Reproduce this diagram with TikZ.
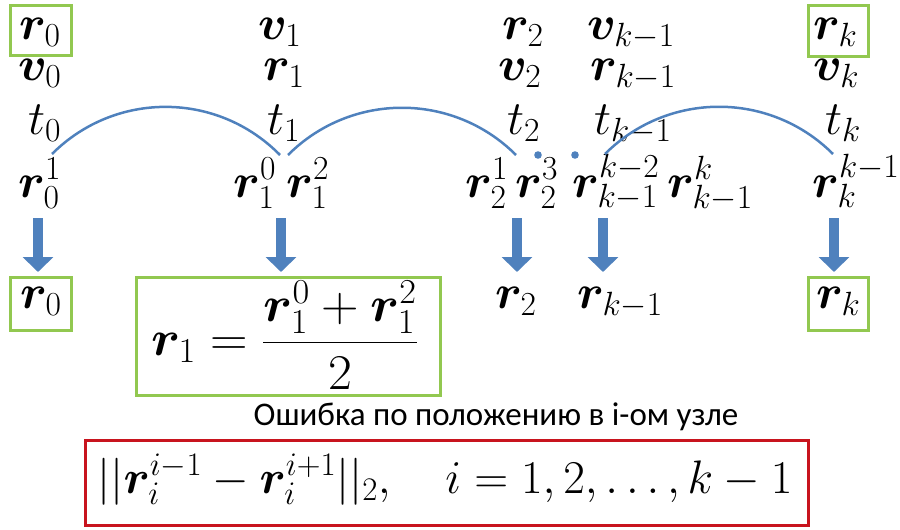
\RequirePackage{fix-cm}
\documentclass[tikz,border=0pt]{standalone}
\usepackage{amsmath,bm}
\usepackage{fontspec}
\newfontfamily\rusfont{Carlito}
\usetikzlibrary{arrows.meta}
\definecolor{boxgreen}{RGB}{146,200,80}
\definecolor{arcblue}{RGB}{79,129,189}
\definecolor{boxred}{RGB}{200,20,30}
\begin{document}
\begin{tikzpicture}[x=1pt,y=-1pt,
  every node/.style={inner sep=0pt,font=\fontsize{48}{58}\selectfont},
  lbl/.style={anchor=base west},
  gbox/.style={draw=boxgreen,line width=3pt},
  rbox/.style={draw=boxred,line width=3pt},
  arcline/.style={draw=arcblue,line width=2.5pt},
  bigarrow/.style={draw=arcblue,line width=10pt,-{Triangle[width=30pt,length=15pt]}},
  dotmark/.style={fill=arcblue}]
\useasboundingbox (0,0) rectangle (900,530);
% row 1
\node[lbl] (r0a) at (19,39) {$\bm r_0$};
\node[lbl] (v1) at (258,39) {$\bm v_1$};
\node[lbl] (r2a) at (502,39) {$\bm r_2$};
\node[lbl] (vkm1) at (587,39) {$\bm v_{k-1}$};
\node[lbl] (rka) at (813,39) {$\bm r_k$};
% row 2
\node[lbl] (v0) at (18,80) {$\bm v_0$};
\node[lbl] (r1a) at (263,80) {$\bm r_1$};
\node[lbl] (v2) at (498,80) {$\bm v_2$};
\node[lbl] (rkm1a) at (590,80) {$\bm r_{k-1}$};
\node[lbl] (vk) at (813,80) {$\bm v_k$};
% row 3
\node[lbl] (t0) at (28,134) {$t_0$};
\node[lbl] (t1) at (267,134) {$t_1$};
\node[lbl] (t2) at (507,134) {$t_2$};
\node[lbl] (tkm1) at (594,134) {$t_{k-1}$};
\node[lbl] (tk) at (825,134) {$t_k$};
% row 4
\node[lbl] (r01) at (18,197) {$\bm r_0^1$};
\node[lbl] (r10) at (233,197) {$\bm r_1^0$};
\node[lbl] (r12) at (286,197) {$\bm r_1^2$};
\node[lbl] (r21) at (465,197) {$\bm r_2^1$};
\node[lbl] (r23) at (515,197) {$\bm r_2^3$};
\node[lbl] (rkm1km2) at (572,197) {$\bm r_{k-1}^{k-2}$};
\node[lbl] (rkm1k) at (667,197) {$\bm r_{k-1}^{k}$};
\node[lbl] (rkkm1) at (812,197) {$\bm r_k^{k-1}$};
% bottom row
\node[lbl] (r0b) at (20,308) {$\bm r_0$};
\node[lbl] (r2b) at (495,308) {$\bm r_2$};
\node[lbl] (rkm1b) at (577,308) {$\bm r_{k-1}$};
\node[lbl] (rkb) at (816,308) {$\bm r_k$};
\node[anchor=base,font=\fontsize{50}{60}\selectfont,xscale=1.04] (r1f) at (284.5,355) {$\displaystyle \bm r_1=\frac{\bm r_1^0+\bm r_1^2}{2}$};
% green boxes
\draw[gbox] (10,5) rectangle (71,55);
\draw[gbox] (808,5) rectangle (868,56);
\draw[gbox] (10,277) rectangle (71,330);
\draw[gbox] (808,277) rectangle (868,330);
\draw[gbox] (136,277) rectangle (440,395);
% arcs
\coordinate (a1s) at (52,154); \coordinate (a1e) at (280,155);
\coordinate (a2s) at (288,155); \coordinate (a2e) at (516,155);
\coordinate (a3s) at (605,154); \coordinate (a3e) at (833,154);
\draw[arcline] (a1s) .. controls (115,91) and (217,91) .. (a1e);
\draw[arcline] (a2s) .. controls (351,92) and (453,92) .. (a2e);
\draw[arcline] (a3s) .. controls (668,91) and (770,91) .. (a3e);
\fill[dotmark] (538,155) circle (3.8);
\fill[dotmark] (575,155) circle (3.8);
% arrows
\coordinate (p1s) at (38,218); \coordinate (p1e) at (38,272);
\coordinate (p2s) at (281,218); \coordinate (p2e) at (281,272);
\coordinate (p3s) at (517,218); \coordinate (p3e) at (517,272);
\coordinate (p4s) at (603,218); \coordinate (p4e) at (603,272);
\coordinate (p5s) at (834,218); \coordinate (p5e) at (834,272);
\foreach \i in {1,...,5} \draw[bigarrow] (p\i s) -- (p\i e);
% bottom
\node[font=\rusfont\fontsize{33}{40}\selectfont,anchor=base] (caption) at (496,425) {Ошибка по положению в i-ом узле};
\draw[rbox] (85,440) rectangle (808,525);
\node[anchor=base,font=\fontsize{47}{56}\selectfont] (err) at (445,493) {$||\bm r_i^{i-1}-\bm r_i^{i+1}||_2,\quad i=1,2,\ldots,k-1$};
\end{tikzpicture}
\end{document}
